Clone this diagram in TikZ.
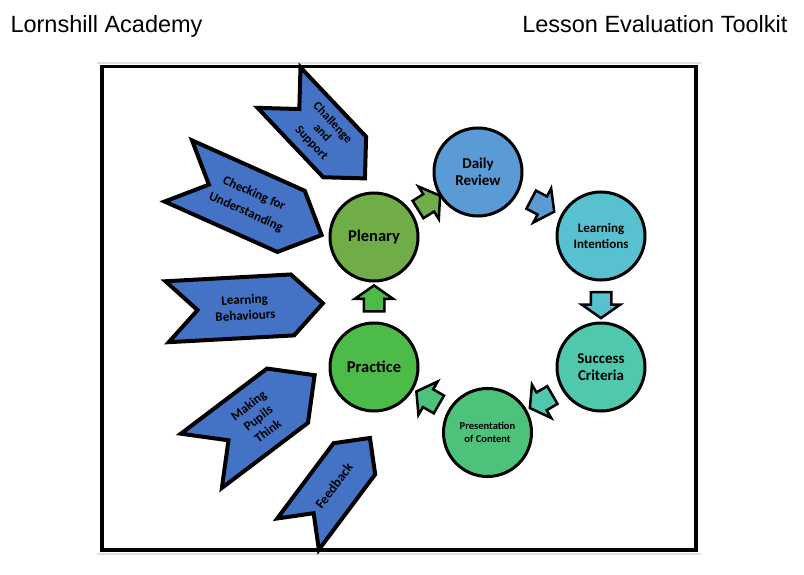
\documentclass[tikz,border=0pt]{standalone}
\usepackage{fontspec}
\setmainfont{Carlito}
\newfontfamily\headfont{Liberation Sans}
\usetikzlibrary{shapes.symbols,shapes.arrows}
\definecolor{chevblue}{HTML}{4472C4}
\definecolor{plenarygreen}{HTML}{70AD47}
\definecolor{reviewblue}{HTML}{5B9BD5}
\definecolor{intentcyan}{HTML}{57C1D0}
\definecolor{successteal}{HTML}{4FC8AE}
\definecolor{contentgreen}{HTML}{4CC27B}
\definecolor{practicegreen}{HTML}{4DBB47}
\begin{document}
\begin{tikzpicture}[x=1pt, y=-1pt]
    \tikzstyle{stage} = [circle, draw, line width=3pt, minimum size=88pt, inner sep=0pt, align=center, font=\bfseries\fontsize{15}{17}\selectfont]
    \tikzstyle{chev} = [signal, signal from=west, signal to=east, signal pointer angle=90, draw, fill=chevblue, line width=4pt, inner sep=0pt, align=center, font=\bfseries\fontsize{13}{16}\selectfont]
    \tikzstyle{flow} = [single arrow, draw, line width=2.5pt, minimum height=26pt, single arrow head extend=9pt, single arrow tip angle=110, inner xsep=0pt, inner ysep=9pt, sloped, allow upside down=true]
    \useasboundingbox (0,0) rectangle (804,575);

    \node (school) [anchor=base west, font=\headfont\fontsize{23.5}{28}\selectfont] at (7,33) {Lornshill Academy};
    \node (toolkit) [anchor=base east, font=\headfont\fontsize{23.5}{28}\selectfont] at (791,33) {Lesson Evaluation Toolkit};

    % page edge and frame
    \draw [gray!25, line width=2pt] (97,63) -- (701,63);
    \draw [gray!25, line width=2pt] (97,554) -- (701,554);
    \draw [line width=3.5pt] (102,66.5) rectangle (696,550);

    \node (support) [chev, rotate=-46.6, minimum width=125pt, minimum height=59pt, font=\bfseries\fontsize{12.5}{14.5}\selectfont] at (322,133) {Challenge\\and\\Support};
    \node (understanding) [chev, rotate=-24.1, minimum width=157pt, minimum height=67pt, font=\bfseries\fontsize{13}{20}\selectfont] at (250,203) {Checking for\\Understanding};
    \node (behaviours) [chev, rotate=3.1, minimum width=156pt, minimum height=61pt] at (245,307.5) {Learning\\Behaviours};
    \node (think) [chev, rotate=37.1, minimum width=142pt, minimum height=68pt] at (258,418) {Making\\Pupils\\Think};
    \node (feedback) [chev, rotate=53.2, minimum width=120pt, minimum height=52pt, font=\bfseries\fontsize{13.5}{16}\selectfont] at (334,486) {Feedback};

    \node (plenary) [stage, fill=plenarygreen, font=\bfseries\fontsize{16.5}{18}\selectfont] at (374,237) {Plenary};
    \node (review) [stage, fill=reviewblue] at (478,172) {Daily\\Review};
    \node (intentions) [stage, fill=intentcyan, font=\bfseries\fontsize{13}{16}\selectfont] at (601,236) {Learning\\Intentions};
    \node (criteria) [stage, fill=successteal] at (601,367) {Success\\Criteria};
    \node (content) [stage, fill=contentgreen, font=\bfseries\fontsize{10.5}{13}\selectfont] at (487.5,432.5) {Presentation\\of Content};
    \node (practice) [stage, fill=practicegreen, font=\bfseries\fontsize{16.5}{18}\selectfont] at (374,367) {Practice};

    \path (plenary) -- node (f1) [flow, fill=plenarygreen] {} (review);
    \path (review) -- node (f2) [flow, fill=reviewblue] {} (intentions);
    \path (intentions) -- node (f3) [flow, fill=intentcyan] {} (criteria);
    \path (criteria) -- node (f4) [flow, fill=successteal] {} (content);
    \path (content) -- node (f5) [flow, fill=contentgreen] {} (practice);
    \path (practice) -- node (f6) [flow, fill=practicegreen] {} (plenary);
\end{tikzpicture}
\end{document}
